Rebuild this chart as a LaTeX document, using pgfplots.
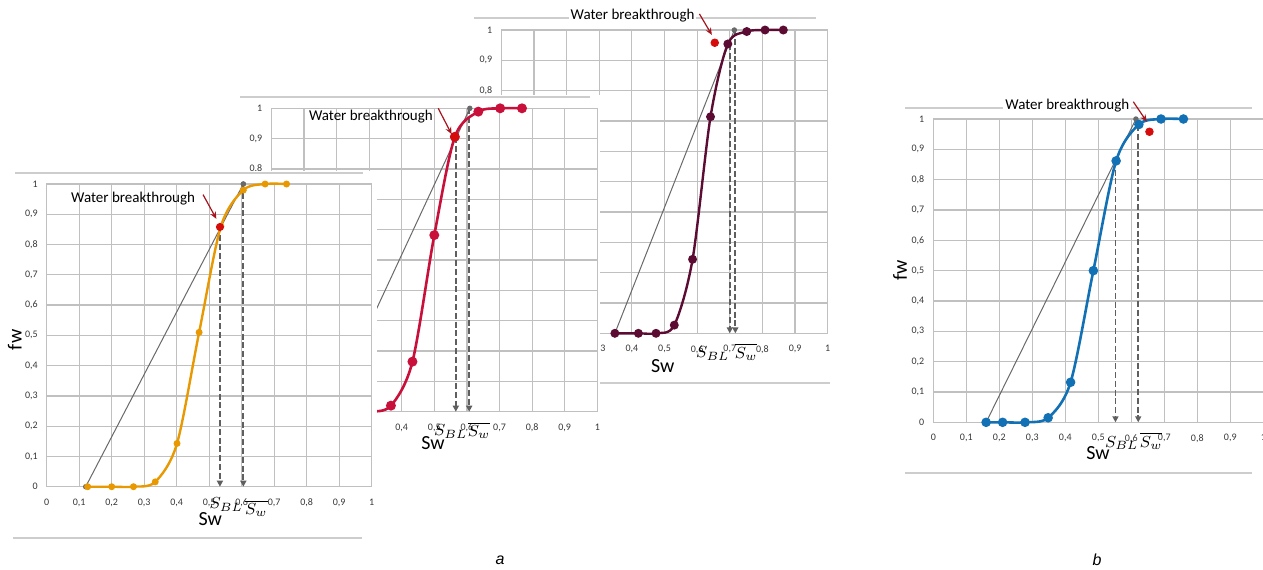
\documentclass[border=0pt]{standalone}
\usepackage{fontspec}
\setmainfont{Carlito}
\newfontfamily\capfont{Liberation Sans}
\usepackage{pgfplots}
\pgfplotsset{compat=1.18}
\usetikzlibrary{arrows.meta}

\definecolor{gridgray}{RGB}{192,192,192}
\definecolor{rulegray}{RGB}{205,205,205}
\definecolor{tangray}{RGB}{105,105,105}
\definecolor{dashgray}{RGB}{95,95,95}
\definecolor{oranc}{RGB}{232,152,0}
\definecolor{crims}{RGB}{200,16,58}
\definecolor{maroon}{RGB}{92,12,50}
\definecolor{bluec}{RGB}{18,112,180}
\definecolor{dotred}{RGB}{214,12,12}
\definecolor{arrred}{RGB}{165,20,30}
\definecolor{ticktxt}{RGB}{55,55,55}

\pgfplotsset{
  fwbase/.style={
    scale only axis, anchor=south west, clip=false,
    xmin=0, xmax=1, ymin=0, ymax=1,
    xtick={0,0.1,0.2,0.3,0.4,0.5,0.6,0.7,0.8,0.9,1},
    ytick={0,0.1,0.2,0.3,0.4,0.5,0.6,0.7,0.8,0.9,1},
    grid=major, grid style={draw=gridgray, line width=0.6pt},
    axis line style={draw=gridgray, line width=0.6pt},
    major tick length=0pt,
    /pgf/number format/use comma,
    /pgf/number format/assume math mode=true,
    ticklabel style={font=\fontsize{5}{6}\selectfont, text=ticktxt},
    xticklabel style={yshift=-2.5pt},
    yticklabel style={xshift=-1pt},
  },
  tanline/.style={color=tangray, line width=0.5pt, mark=*, mark size=1.1pt,
    mark options={fill=tangray}},
  dashv/.style={color=dashgray, line width=0.9pt, dash pattern=on 3pt off 1.4pt,
    -{Triangle[length=3pt,width=3pt]}},
  bkdot/.style={only marks, mark=*, mark size=1.9pt, color=dotred, mark options={fill=dotred}},
}
\newcommand{\lab}{\fontsize{10}{12}\selectfont}
\newcommand{\wb}{\fontsize{7.5}{9}\selectfont}
\newcommand{\sm}{\fontsize{8.5}{10}\selectfont}

\begin{document}
\begin{tikzpicture}
\path[use as bounding box] (0,0) rectangle (631.5pt,-284.5pt);

% ---------- panel a, back (dark maroon) ----------
\draw[rulegray, line width=0.7pt] (237pt,-9pt) -- (408pt,-9pt);
\draw[rulegray, line width=0.7pt] (240pt,-191.5pt) -- (415pt,-191.5pt);
\begin{axis}[fwbase, at={(250.65pt,-166.65pt)}, width=163.2pt, height=151.65pt]
\addplot[tanline] coordinates {(0.348,0) (0.714,1.0)};
\addplot[dashv] coordinates {(0.700,0.954) (0.700,0)};
\addplot[dashv] coordinates {(0.717,1.0) (0.717,0)};
\addplot[smooth, color=maroon, line width=1.2pt, mark=*, mark size=1.6pt,
  mark options={fill=maroon}] coordinates {
  (0.348,0) (0.420,0) (0.474,0) (0.530,0.027) (0.586,0.244)
  (0.641,0.714) (0.694,0.954) (0.752,0.995) (0.808,1.0) (0.864,1.0)};
\addplot[bkdot] coordinates {(0.654,0.958)};
\node[font=\wb, fill=white, inner sep=1pt, anchor=east] at (axis cs:0.599,1.046) {Water breakthrough};
\draw[arrred, line width=0.6pt, -{Stealth[length=3.5pt,width=3pt]}] (axis cs:0.607,1.053) -- (axis cs:0.645,0.984);
\node[font=\sm] at (axis cs:0.648,-0.066) {$S_{BL}$};
\node[font=\sm] at (axis cs:0.750,-0.062) {$\overline{S_w}$};
\node[font=\lab] at (axis cs:0.495,-0.108) {Sw};
\end{axis}

% ---------- panel a, middle (crimson) ----------
\fill[white] (118pt,-47.5pt) rectangle (300pt,-232.5pt);
\draw[rulegray, line width=0.7pt] (120pt,-48.5pt) -- (295pt,-48.5pt);
\begin{axis}[fwbase, at={(135.65pt,-205.85pt)}, width=163pt, height=151.7pt]
\addplot[tanline] coordinates {(0.176,0) (0.609,1.0)};
\addplot[dashv] coordinates {(0.566,0.906) (0.566,0)};
\addplot[dashv] coordinates {(0.607,1.0) (0.607,0)};
\addplot[smooth, color=crims, line width=1.3pt, mark=*, mark size=1.8pt,
  mark options={fill=crims}] coordinates {
  (0.233,0) (0.300,0) (0.367,0.020) (0.433,0.165) (0.500,0.582)
  (0.563,0.906) (0.635,0.989) (0.702,1.0) (0.769,1.0)};
\addplot[bkdot, mark size=2.1pt] coordinates {(0.563,0.906)};
\node[font=\wb, anchor=east] at (axis cs:0.517,0.974) {Water breakthrough};
\draw[arrred, line width=0.6pt, -{Stealth[length=3.5pt,width=3pt]}] (axis cs:0.512,1.0) -- (axis cs:0.553,0.915);
\node[font=\sm] at (axis cs:0.550,-0.066) {$S_{BL}$};
\node[font=\sm] at (axis cs:0.637,-0.062) {$\overline{S_w}$};
\node[font=\lab] at (axis cs:0.496,-0.104) {Sw};
\end{axis}

% ---------- panel a, front (orange) ----------
\fill[white] (2.5pt,-85.5pt) rectangle (188.5pt,-274pt);
\draw[rulegray, line width=0.7pt] (7.5pt,-86.5pt) -- (181.5pt,-86.5pt);
\draw[rulegray, line width=0.7pt] (6.5pt,-269pt) -- (181pt,-269pt);
\begin{axis}[fwbase, at={(23.35pt,-243.35pt)}, width=162.5pt, height=151.35pt]
\addplot[tanline] coordinates {(0.12,0) (0.605,1.0)};
\addplot[dashv] coordinates {(0.533,0.86) (0.533,0)};
\addplot[dashv] coordinates {(0.605,1.0) (0.605,0)};
\addplot[smooth, color=oranc, line width=1.2pt, mark=*, mark size=1.1pt,
  mark options={fill=oranc}] coordinates {
  (0.126,0) (0.200,0) (0.267,0) (0.334,0.016) (0.401,0.143)
  (0.469,0.510) (0.536,0.860) (0.605,0.980) (0.672,1.0) (0.738,1.0)};
\addplot[bkdot, mark size=1.8pt] coordinates {(0.533,0.858)};
\addplot[only marks, mark=*, mark size=1.1pt, color=tangray] coordinates {(0.605,1.0)};
\node[font=\wb, anchor=east] at (axis cs:0.478,0.953) {Water breakthrough};
\draw[arrred, line width=0.6pt, -{Stealth[length=3.5pt,width=3pt]}] (axis cs:0.481,0.965) -- (axis cs:0.522,0.885);
\node[font=\sm] at (axis cs:0.552,-0.06) {$S_{BL}$};
\node[font=\sm] at (axis cs:0.645,-0.072) {$\overline{S_w}$};
\node[font=\lab] at (axis cs:0.503,-0.107) {Sw};
\node[font=\lab, rotate=90] at (axis cs:-0.098,0.485) {fw};
\end{axis}

% ---------- panel b (blue) ----------
\draw[rulegray, line width=0.7pt] (452.5pt,-54pt) -- (626pt,-54pt);
\draw[rulegray, line width=0.7pt] (452.5pt,-236.5pt) -- (626pt,-236.5pt);
\begin{axis}[fwbase, at={(466.65pt,-211.15pt)}, width=165pt, height=151.65pt]
\addplot[tanline] coordinates {(0.16,0) (0.614,1.0)};
\addplot[dashv] coordinates {(0.552,0.862) (0.552,0)};
\addplot[dashv] coordinates {(0.621,0.98) (0.621,0)};
\addplot[smooth, color=bluec, line width=1.3pt, mark=*, mark size=1.7pt,
  mark options={fill=bluec}] coordinates {
  (0.160,0) (0.210,0) (0.278,0) (0.348,0.015) (0.416,0.132)
  (0.485,0.500) (0.554,0.862) (0.623,0.982) (0.690,1.0) (0.758,1.0)};
\addplot[bkdot] coordinates {(0.655,0.958)};
\node[font=\wb, fill=white, inner sep=1pt, anchor=east] at (axis cs:0.601,1.045) {Water breakthrough};
\draw[arrred, line width=0.6pt, -{Stealth[length=3.5pt,width=3pt]}] (axis cs:0.606,1.057) -- (axis cs:0.647,0.991);
\node[font=\sm] at (axis cs:0.571,-0.068) {$S_{BL}$};
\node[font=\sm] at (axis cs:0.660,-0.062) {$\overline{S_w}$};
\node[font=\lab] at (axis cs:0.499,-0.1) {Sw};
\node[font=\lab, rotate=90] at (axis cs:-0.101,0.502) {fw};
\end{axis}

\node[font=\capfont\itshape\fontsize{8}{9}\selectfont] at (250pt,-280pt) {a};
\node[font=\capfont\itshape\fontsize{8}{9}\selectfont] at (548.5pt,-280pt) {b};
\end{tikzpicture}
\end{document}
